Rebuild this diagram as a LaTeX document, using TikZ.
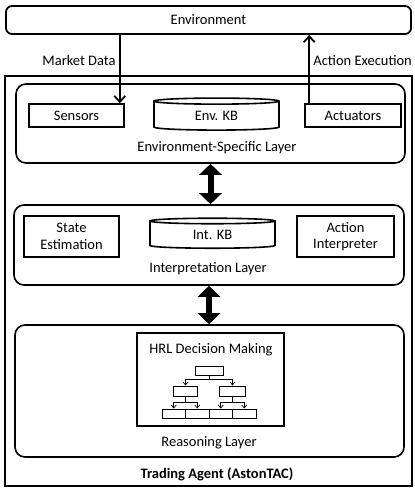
\documentclass[tikz,border=0pt]{standalone}
\usepackage{fontspec}
\setmainfont{Carlito}
\usetikzlibrary{arrows.meta, shapes.geometric}

\begin{document}
\begin{tikzpicture}[x=1pt, y=-1pt, font=\fontsize{14.5}{16.5}\selectfont,
  layer/.style={draw, line width=1.6pt, rounded corners=10pt},
  unit/.style={draw, line width=1.6pt, align=center, inner sep=0pt},
  kb/.style={draw, line width=1.6pt, cylinder, shape border rotate=90, aspect=0.14, inner sep=0pt},
  leaf/.style={draw, line width=1pt, inner sep=0pt},
  flow/.style={->, line width=1.8pt, >={Straight Barb[length=6pt, width=11pt]}},
  tflow/.style={->, line width=0.7pt, >={Straight Barb[length=3pt, width=5pt]}},
  link/.style={{Triangle[width=22pt, length=11pt]}-{Triangle[width=22pt, length=11pt]}, line width=6pt}]

\useasboundingbox (0,0) rectangle (415,488);

% ---- outside world --------------------------------------------------------------
\node[draw, line width=1.8pt, rounded corners=6pt, minimum width=405pt, minimum height=28pt] (env) at (208.5,20) {Environment};
\node[draw, line width=2.2pt, minimum width=407pt, minimum height=410pt] (agent) at (208.5,281) {};
\node[font=\fontsize{14.5}{16.5}\selectfont\bfseries] (agentlbl) at (217,474) {Trading Agent (AstonTAC)};

% ---- 1. environment-specific layer -------------------------------------------------
\node[layer, minimum width=389pt, minimum height=79pt] (esl) at (210.5,123.5) {};
\node[unit, minimum width=95pt, minimum height=23pt] (sensors) at (76.5,115.5) {Sensors};
\node[kb, minimum width=125pt, minimum height=32pt] (envkb) at (216.5,116) {Env. KB};
\node[unit, minimum width=96pt, minimum height=23pt] (actuators) at (353,115.5) {Actuators};
\node (esllbl) at (217,148) {Environment-Specific Layer};

% ---- 2. interpretation layer -------------------------------------------------------
\node[layer, minimum width=390pt, minimum height=80pt] (il) at (209,245) {};
\node[unit, minimum width=95pt, minimum height=41pt] (state) at (71.5,236.5) {State\\Estimation};
\node[kb, minimum width=125pt, minimum height=30pt] (intkb) at (212.5,235) {Int. KB};
\node[unit, minimum width=97pt, minimum height=41pt] (actint) at (345.5,236.5) {Action\\Interpreter};
\node (illbl) at (208,269) {Interpretation Layer};

% ---- 3. reasoning layer ------------------------------------------------------------
\node[layer, minimum width=389pt, minimum height=132pt] (rl) at (209.5,391) {};
\node[unit, minimum width=147pt, minimum height=93pt] (hrl) at (210.5,379.5) {};
\node (hrllbl) at (211,350) {HRL Decision Making};
\node[leaf, minimum width=28pt, minimum height=9pt] (t0) at (209,370.5) {};
\node[leaf, minimum width=24pt, minimum height=10pt] (t1) at (185.5,391) {};
\node[leaf, minimum width=26pt, minimum height=10pt] (t2) at (232.5,391) {};
\node[leaf, minimum width=23.5pt, minimum height=9pt] (t11) at (173.75,413.5) {};
\node[leaf, minimum width=23.5pt, minimum height=9pt] (t12) at (197.25,413.5) {};
\node[leaf, minimum width=23.5pt, minimum height=9pt] (t21) at (220.75,413.5) {};
\node[leaf, minimum width=23.5pt, minimum height=9pt] (t22) at (244.25,413.5) {};
\node (rllbl) at (209,443) {Reasoning Layer};

\draw[tflow] (t0.south) -- ++(0,4) -| (t1.north);
\draw[tflow] (t0.south) -- ++(0,4) -| (t2.north);
\draw[tflow] (t1.south) -- ++(0,6) -| (t11.north);
\draw[tflow] (t1.south) -- ++(0,6) -| (t12.north);
\draw[tflow] (t2.south) -- ++(0,6) -| (t21.north);
\draw[tflow] (t2.south) -- ++(0,6) -| (t22.north);

% ---- connections ---------------------------------------------------------------------
\draw[flow] ([xshift=-5pt]sensors.north east |- env.south) -- node[left, pos=0.37] (mdlbl) {Market Data} ([xshift=-5pt]sensors.north east);
\draw[flow] ([xshift=5pt]actuators.north west) -- node[right, pos=0.63] (aelbl) {Action Execution} ([xshift=5pt]actuators.north west |- env.south);
\draw[link] (esl.south) -- (esl.south |- il.north);
\draw[link] (il.south) -- (il.south |- rl.north);

\end{tikzpicture}
\end{document}
